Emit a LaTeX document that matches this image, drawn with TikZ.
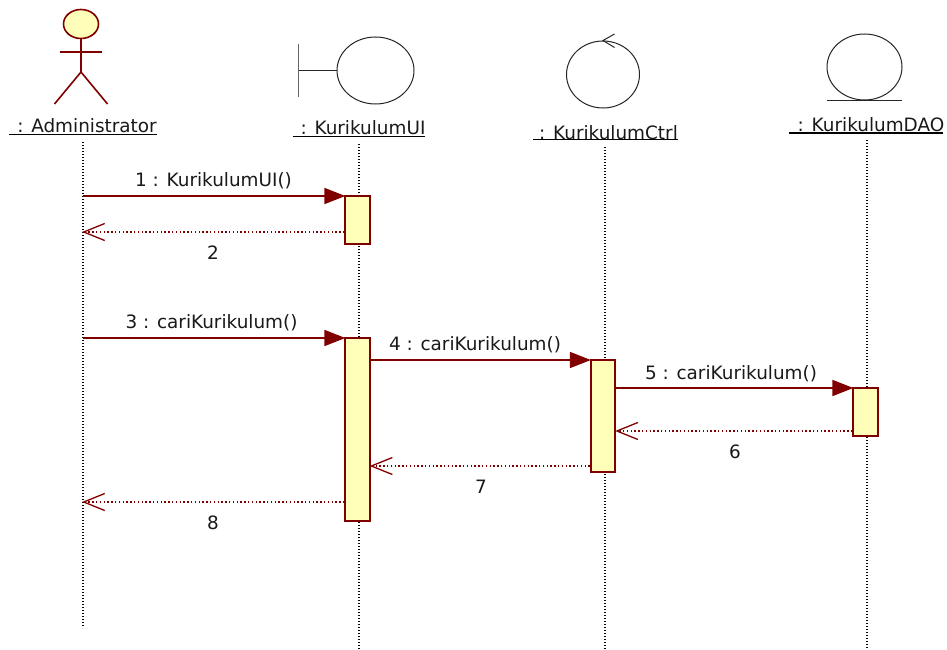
\documentclass[tikz,border=0pt]{standalone}
\usepackage{fontspec}
\setmainfont{DejaVu Sans}
\usetikzlibrary{arrows.meta,calc,shapes.geometric}
\definecolor{umlred}{RGB}{128,0,0}
\definecolor{umlfill}{RGB}{255,255,185}
\tikzset{
 lbl/.style={font=\fontsize{18.4}{20}\selectfont,inner sep=0pt,text=black!90},
 msglbl/.style={lbl},
 head/.style={lbl},
 under/.style={black,line width=1.8pt},
 life/.style={black,line width=1.1pt,dash pattern=on 1.3pt off 1.7pt},
 activ/.style={draw=umlred,fill=umlfill,line width=1.8pt,minimum width=24.5pt,inner sep=0pt,rectangle},
 call/.style={draw=umlred,line width=1.7pt,-{Triangle[length=21pt,width=16pt,fill=umlred]},shorten >=-1pt},
 ret/.style={draw=umlred,line width=1.2pt,dash pattern=on 1.4pt off 2.4pt,-{Straight Barb[length=21pt,width=17pt,line width=1.3pt]},shorten >=-1pt},
 symb/.style={draw=black!85,line width=1pt},
 actorl/.style={draw=umlred,line width=1.6pt},
}
\begin{document}
\begin{tikzpicture}[x=1pt,y=-1pt]
\useasboundingbox (0,0) rectangle (947,650);
% actor
\node[ellipse,draw=umlred,fill=umlfill,line width=1.6pt,minimum width=35pt,minimum height=29pt,inner sep=0pt] (ahead) at (81,24) {};
\coordinate (ahip) at (81,72);
\coordinate (aarmL) at (60,52);\coordinate (aarmR) at (102,52);
\coordinate (alegL) at (54.5,104);\coordinate (alegR) at (107.5,104);
\draw[actorl] (ahead.south) -- (ahip);
\draw[actorl] (aarmL) -- (aarmR);
\draw[actorl] (alegL) -- (ahip) -- (alegR);
% boundary
\node[ellipse,symb,minimum width=77pt,minimum height=67pt,inner sep=0pt] (bcirc) at (375.5,70.5) {};
\coordinate (bbarT) at (298.5,44);\coordinate (bbarB) at (298.5,97.5);\coordinate (bbarM) at (298.5,70.5);
\draw[symb,draw=black!60,line width=1.2pt] (bbarT) -- (bbarB);
\draw[symb] (bbarM) -- (bcirc.west);
% control
\node[ellipse,symb,minimum width=73pt,minimum height=67pt,inner sep=0pt] (ccirc) at (603,74.5) {};
\coordinate (carmT) at (614.5,34);\coordinate (carmB) at (614.5,47.5);
\draw[symb] (carmT) -- (ccirc.north) -- (carmB);
% entity
\node[ellipse,symb,minimum width=75pt,minimum height=66pt,inner sep=0pt] (ecirc) at (864.5,67) {};
\coordinate (ebarL) at (827,100.5);\coordinate (ebarR) at (902,100.5);
\draw[symb] (ebarL) -- (ebarR);
% headings
\node[head] (hA) at (87,126) {: Administrator};
\node[head] (hB) at (363,128) {: KurikulumUI};
\node[head] (hC) at (608.5,133) {: KurikulumCtrl};
\node[head] (hD) at (871,124.5) {: KurikulumDAO};
\coordinate (uA1) at (9,134.5);\coordinate (uA2) at (157,134.5);
\coordinate (uB1) at (293,136.5);\coordinate (uB2) at (425,136.5);
\coordinate (uC1) at (533,139.5);\coordinate (uC2) at (678,139.5);
\coordinate (uD1) at (789,133);\coordinate (uD2) at (943,133);
\draw[under] (uA1) -- (uA2);
\draw[under] (uB1) -- (uB2);
\draw[under] (uC1) -- (uC2);
\draw[under] (uD1) -- (uD2);
% lifelines
\coordinate (lA1) at (83,142);\coordinate (lA2) at (83,628);
\coordinate (lB1) at (359,144);\coordinate (lB2) at (359,650);
\coordinate (lC1) at (605,147);\coordinate (lC2) at (605,650);
\coordinate (lD1) at (867,140);\coordinate (lD2) at (867,650);
\draw[life] (lA1) -- (lA2);
\draw[life] (lB1) -- (lB2);
\draw[life] (lC1) -- (lC2);
\draw[life] (lD1) -- (lD2);
% activations
\node[activ,minimum height=48pt] (a1) at (357.5,220) {};
\node[activ,minimum height=183pt] (a2) at (357.5,429.5) {};
\node[activ,minimum height=112pt] (a3) at (603,416) {};
\node[activ,minimum height=48pt] (a4) at (865.5,412) {};
% messages
\coordinate (m1s) at (83,196);
\coordinate (m2e) at (83,232);
\coordinate (m3s) at (83,338);
\coordinate (m8e) at (83,502);
\draw[call] (m1s) -- (a1.west |- m1s);
\draw[ret] (a1.west |- m2e) -- (m2e);
\draw[call] (m3s) -- (a2.west |- m3s);
\draw[call] (a2.east |- 0,360) -- (a3.west |- 0,360);
\draw[call] (a3.east |- 0,388) -- (a4.west |- 0,388);
\draw[ret] (a4.west |- 0,431) -- (a3.east |- 0,431);
\draw[ret] (a3.west |- 0,466) -- (a2.east |- 0,466);
\draw[ret] (a2.west |- m8e) -- (m8e);
% labels
\node[msglbl] (t1) at (213.5,181) {1 : KurikulumUI()};
\node[msglbl] (t2) at (213,252.5) {2};
\node[msglbl] (t3) at (211.5,323) {3 : cariKurikulum()};
\node[msglbl] (t4) at (475,345) {4 : cariKurikulum()};
\node[msglbl] (t5) at (731,374) {5 : cariKurikulum()};
\node[msglbl] (t6) at (735,451.5) {6};
\node[msglbl] (t7) at (481,486.5) {7};
\node[msglbl] (t8) at (213,522.5) {8};
\end{tikzpicture}
\end{document}
